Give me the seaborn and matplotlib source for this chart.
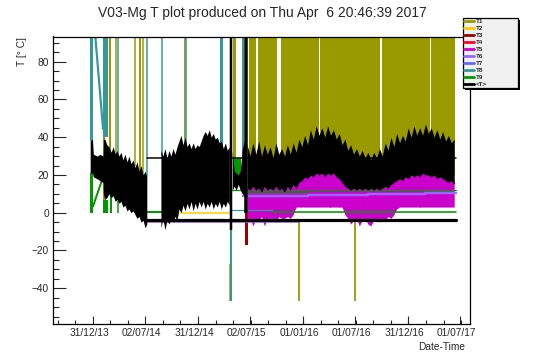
import matplotlib
matplotlib.use("Agg")
import numpy as np
import pandas as pd
import matplotlib.pyplot as plt
import matplotlib.dates as mdates
from matplotlib.ticker import MultipleLocator, AutoMinorLocator, FixedLocator
from matplotlib.patches import Rectangle
from matplotlib.lines import Line2D
from matplotlib.transforms import ScaledTranslation
import seaborn as sns

# ---------------- data ----------------
TITLE = "V03-Mg T plot produced on Thu Apr  6 20:46:39 2017"
SERIES = ["T1", "T2", "T3", "T4", "T5", "T6", "T7", "T8", "T9", "<T>"]
COLORS = ["#999900", "#ffcc00", "#990000", "#ff0033", "#cc00cc",
          "#9966ff", "#6666ff", "#339999", "#009900", "#000000"]
X_TICKS = ["2013-12-31", "2014-07-02", "2014-12-31", "2015-07-02",
           "2016-01-01", "2016-07-01", "2016-12-31", "2017-07-01"]

# <T> envelope, first period (min / max of the dense trace)
MEAN_A_DATES = ["2013-12-22", "2013-12-30", "2014-01-02", "2014-01-15", "2014-01-25",
                "2014-02-05", "2014-02-06", "2014-02-11", "2014-02-18", "2014-02-25",
                "2014-03-05", "2014-03-12", "2014-03-19", "2014-03-25", "2014-04-01",
                "2014-04-08", "2014-04-15", "2014-04-22", "2014-04-29", "2014-05-06",
                "2014-05-13", "2014-05-20", "2014-05-27", "2014-06-03", "2014-06-10",
                "2014-06-17", "2014-06-24", "2014-07-01", "2014-07-07"]
MEAN_A_HI = [38, 39, 31, 30, 31, 30, 39, 39, 36, 35, 32, 35, 31, 33, 30, 32, 28, 31, 27, 30,
             26, 28, 24, 27, 22, 25, 20, 22, 19]
MEAN_A_LO = [21, 21, 19, 18, 17, 16, 10, 7, 8, 10, 8, 9, 6, 7, 5, 6, 3, 4, 1, 2, 0, 1, -1, -3,
             -2, -5, -4, -8, -6]

# <T> envelope, weekly from 2014-08-25
MEAN_B_START = "2014-08-25"
MEAN_B_HI = [33, 30, 34, 29, 33, 30, 34, 31, 35, 38, 41, 36, 40, 35, 37, 34, 37, 34, 36, 35,
             38, 41, 43, 41, 44, 40, 42, 39, 40, 37, 38, 34, 37, 33, 35]
MEAN_B_LO = [-8, -3, -9, -4, -6, -3, -5, -2, -4, 2, 0, 4, 1, 5, 2, 6, 1, 5, 2, 6,
             3, 6, 2, 5, 3, 6, 2, 5, 3, 6, 2, 5, 3, 6, 4]

# <T> envelope, weekly from 2015-04-30
MEAN_C_START = "2015-04-30"
MEAN_C_HI = [33, 22, 21, 20, 22, 34, 38, 35]
MEAN_C_LO = [12, 14, 12, 15, 12, 10, 9, 12]

# <T> and T5 envelopes, every 10 days from 2015-06-21
MEAN_D_START = "2015-06-21"
MEAN_D_HI = [36, 30, 37, 31, 38, 30, 36, 31, 35, 29, 37, 31, 34, 30, 36, 31, 37, 32, 39, 35,
             41, 36, 44, 39, 46, 41, 45, 40, 46, 41, 44, 39, 42, 36, 39, 33, 36, 31, 34, 30,
             33, 29, 32, 28, 32, 29, 34, 30, 37, 33, 40, 35, 42, 37, 41, 38, 45, 40, 46, 41,
             45, 41, 47, 42, 45, 40, 44, 39, 43, 38, 41, 37, 39]
MEAN_D_LO = [13, 12, 14, 12, 13, 11, 14, 12, 13, 12, 14, 12, 13, 11, 14, 12, 15, 13, 16,
             17, 19, 18, 20, 19, 21, 20, 21, 19, 21, 20, 21, 19, 18, 16,
             14, 13, 12, 13, 12, 13, 12, 13, 12, 13, 12, 13, 12, 13, 14, 13, 15,
             16, 17, 18, 17, 19, 18, 20, 19, 20, 19, 21, 20, 20, 19, 20, 18, 19, 18, 17, 16, 17, 15]
T5_D_HI = [14, 13, 15, 13, 14, 12, 15, 13, 14, 13, 15, 13, 14, 12, 15, 13, 16, 14, 17,
           19, 21, 20, 22, 21, 23, 22, 22, 21, 22, 21, 22, 20, 19, 17,
           15, 14, 13, 14, 13, 14, 13, 14, 13, 14, 13, 14, 13, 14, 15, 14, 16,
           18, 19, 20, 19, 21, 20, 22, 21, 22, 21, 23, 22, 22, 21, 22, 20, 21, 20, 19, 18, 19, 17]
T5_D_LO = [-3, -3, -7, -3, -4, -2, -7, -3, -3, -3, -5, -2, -3, -3, -2, -3, -1,
           3, 3, 3, 3, 3, 3, 3, 3, 3, 3, 3, 3, 3, 3, 3, 3, 3,
           -1, -3, -6, -4, -3, -7, -4, -3, -6, -7, -4, -3, -5, -3, -4, -2, -3, -1, 2, 3, 3,
           3, 3, 3, 3, 3, 3, 3, 3, 3, 3, 3, 3, 3, 3, 3, 3, 3, 3]

# filled time spans: (series, start, end, low, high)
SPANS = [
    ("T1", "2014-02-04", "2014-02-12", 0, 44),
    ("T1", "2015-06-26", "2015-07-22", 20, 100),
    ("T1", "2015-07-29", "2015-10-03", 20, 100),
    ("T1", "2015-10-17", "2016-02-27", 20, 100),
    ("T1", "2016-03-01", "2016-09-26", 20, 100),
    ("T1", "2016-10-03", "2017-03-19", 20, 100),
    ("T1", "2017-03-22", "2017-06-14", 20, 100),
    ("T8", "2013-12-22", "2013-12-31", 38, 100),
    ("T8", "2014-02-05", "2014-02-22", 40, 100),
    ("T8", "2015-03-19", "2015-03-30", 33, 100),
    ("T9", "2013-12-22", "2013-12-31", 0, 21),
    ("T9", "2014-02-06", "2014-02-22", 0, 7),
    ("T9", "2015-05-03", "2015-06-01", 20, 29),
    ("T3", "2015-06-13", "2015-06-24", -17, 0),
]

# vertical spikes: (series, date, low, high, width in px)
SPIKES = [
    ("T1", "2014-03-01", 30, 100, 2.0), ("T1", "2014-03-22", 30, 100, 1.5),
    ("T1", "2014-05-27", 25, 100, 1.5), ("T1", "2014-06-13", 20, 100, 2.0),
    ("T1", "2014-06-25", 18, 100, 1.5), ("T1", "2014-11-17", 35, 100, 1.8),
    ("T1", "2015-05-05", 25, 100, 3.0), ("T1", "2015-04-24", -47, -27, 1.5),
    ("T1", "2015-12-19", -47, -4, 1.8), ("T1", "2016-07-01", -47, -4, 1.8),
    ("T8", "2014-03-29", 30, 100, 1.5), ("T8", "2014-07-07", 19, 100, 1.5),
    ("T8", "2014-08-29", 30, 100, 1.5), ("T8", "2014-11-22", 35, 100, 1.5),
    ("T8", "2015-06-07", 30, 100, 2.0), ("T8", "2015-04-27", -47, -9, 2.0),
    ("T9", "2014-03-03", 0, 10, 2.0), ("T9", "2014-03-29", 0, 6, 1.5),
    ("T7", "2015-03-22", 8, 28, 1.0),
    ("T3", "2015-04-25", -27, -5, 1.5),
    ("T4", "2016-04-05", 3, 8, 1.0), ("T4", "2016-05-09", 3, 8, 1.0),
    ("T4", "2017-02-12", 3, 8, 1.0),
    ("<T>", "2015-04-26", -9, 100, 2.5), ("<T>", "2015-06-16", 0, 100, 3.5),
]

# sloped segments: (series, start, value0, end, value1, width px)
SLOPES = [
    ("T8", "2014-01-08", 95, "2014-02-05", 44, 2.2),
    ("T9", "2013-12-31", 3, "2014-02-05", 19, 2.0),
]

# flat segments: (series, start, end, value, width px)
FLATS = [
    ("T9", "2014-07-07", "2014-08-29", 0.5, 2.0),
    ("T9", "2015-01-26", "2017-06-17", 12.0, 1.3),
    ("T9", "2015-06-21", "2016-01-19", 10.5, 1.0),
    ("T9", "2015-09-16", "2017-06-17", 0.5, 1.6),
    ("T6", "2014-07-07", "2015-12-19", -4.7, 1.5),
    ("T6", "2015-01-26", "2015-04-23", 8.4, 2.0),
    ("T6", "2015-06-07", "2016-01-19", 8.6, 2.5),
    ("T6", "2016-01-19", "2016-08-15", 9.2, 2.5),
    ("T6", "2016-08-15", "2017-03-01", 9.9, 2.5),
    ("T6", "2017-03-01", "2017-06-17", 10.6, 2.5),
    ("T8", "2015-04-30", "2015-09-16", 1.5, 1.2),
    ("T2", "2014-10-31", "2015-04-26", -0.3, 1.5),
    ("<T>", "2014-07-07", "2017-06-17", 29.2, 1.5),
    ("<T>", "2014-07-07", "2017-06-17", -3.8, 3.2),
]

# ---------------- style ----------------
sns.set_style("white")
plt.rcParams["font.family"] = ["Liberation Sans", "DejaVu Sans"]

W, H = 546, 362
PX = 72.0 / 100.0
fig = plt.figure(figsize=(W / 100, H / 100), dpi=100)
ax = fig.add_axes([52.5 / W, (H - 324.3) / H, (470 - 52.5) / W, (324.3 - 36.5) / H])
ax.set_facecolor("white")

col = dict(zip(SERIES, COLORS))
zo = {s: i + 1 for i, s in enumerate(SERIES)}

# spans
for s, d0, d1, lo, hi in SPANS:
    ax.fill_between(pd.to_datetime([d0, d1]), lo, hi, color=col[s], lw=0, zorder=zo[s])

# T5 band
d_dates = pd.date_range(MEAN_D_START, periods=len(MEAN_D_HI), freq="10D")
ax.fill_between(d_dates, T5_D_LO, T5_D_HI, color=col["T5"], lw=0, zorder=zo["T5"])

# <T> bands
ax.fill_between(pd.to_datetime(MEAN_A_DATES), MEAN_A_LO, MEAN_A_HI, color="black", lw=0, zorder=zo["<T>"])
ax.fill_between(pd.date_range(MEAN_B_START, periods=len(MEAN_B_HI), freq="7D"),
                MEAN_B_LO, MEAN_B_HI, color="black", lw=0, zorder=zo["<T>"])
ax.fill_between(pd.date_range(MEAN_C_START, periods=len(MEAN_C_HI), freq="7D"),
                MEAN_C_LO, MEAN_C_HI, color="black", lw=0, zorder=zo["<T>"])
ax.fill_between(d_dates, MEAN_D_LO, MEAN_D_HI, color="black", lw=0, zorder=zo["<T>"])

# spikes
for s, d, lo, hi, w in SPIKES:
    ax.vlines(pd.Timestamp(d), lo, hi, color=col[s], lw=w * PX, zorder=zo[s])

# slopes
for s, d0, v0, d1, v1, w in SLOPES:
    ax.plot(pd.to_datetime([d0, d1]), [v0, v1], color=col[s], lw=w * PX, zorder=zo[s],
            solid_capstyle="butt")

# flat segments through seaborn
rows = []
for i, (s, d0, d1, v, w) in enumerate(FLATS):
    for d in (d0, d1):
        rows.append({"seg": f"s{i}", "series": s, "date": pd.Timestamp(d), "T": v, "w": w})
flat_df = pd.DataFrame(rows)
for black in (False, True):
    sub = flat_df[(flat_df["series"] == "<T>") == black]
    segs = sub["seg"].unique().tolist()
    pal = {g: col[sub.loc[sub.seg == g, "series"].iloc[0]] for g in segs}
    sz = {g: sub.loc[sub.seg == g, "w"].iloc[0] * PX for g in segs}
    sns.lineplot(data=sub, x="date", y="T", hue="seg", size="seg", palette=pal, sizes=sz,
                 estimator=None, legend=False, ax=ax, zorder=10.5 if black else 9.5)

ax.set_xlabel("")
ax.set_ylabel("")

# axes
ax.set_xlim(pd.Timestamp("2013-08-13"), pd.Timestamp("2017-08-04"))
ax.set_ylim(-59.1, 93.35)
ax.xaxis.set_major_locator(FixedLocator(mdates.date2num(pd.to_datetime(X_TICKS))))
ax.xaxis.set_major_formatter(mdates.DateFormatter("%d/%m/%y"))
ax.xaxis.set_minor_locator(AutoMinorLocator(3))
ax.yaxis.set_major_locator(MultipleLocator(20))
ax.yaxis.set_minor_locator(MultipleLocator(5))
ax.tick_params(axis="y", which="major", direction="in", length=9.4, width=0.8,
               labelsize=7.3, pad=2.5, left=True)
ax.tick_params(axis="y", which="minor", direction="in", length=4.3, width=0.8, left=True)
ax.tick_params(axis="x", which="major", direction="in", length=5.5, width=0.8,
               labelsize=7.3, pad=3, bottom=True)
ax.tick_params(axis="x", which="minor", direction="in", length=2.7, width=0.8, bottom=True)
for sp in ax.spines.values():
    sp.set_visible(True)
    sp.set_color("black")
    sp.set_linewidth(0.9)
    sp.set_zorder(20)
off = ScaledTranslation(-3.5 / 100, 0, fig.dpi_scale_trans)
for lbl in ax.get_xticklabels():
    lbl.set_transform(lbl.get_transform() + off)

# texts
fig.text(262 / W, 1 - 12.5 / H, TITLE, ha="center", va="center", fontsize=10)
fig.text(22 / W, 1 - 37 / H, "T [° C]", rotation=90, ha="center", va="top", fontsize=7.3)
fig.text(465 / W, 1 - 347 / H, "Date-Time", ha="right", va="center", fontsize=7.3)

# legend
handles = [Line2D([0], [0], color=c, lw=2.0) for c in COLORS]
leg = fig.legend(handles, SERIES, loc="upper left",
                 bbox_to_anchor=(463 / W, 1 - 90 / H, 55 / W, 72 / H),
                 bbox_transform=fig.transFigure, mode="expand",
                 prop={"size": 4.5, "weight": "bold"}, frameon=True, fancybox=False,
                 edgecolor="black", facecolor="#f0f0f0", framealpha=1,
                 borderpad=0.1, labelspacing=0.26, handlelength=1.6,
                 handletextpad=0.3, borderaxespad=0)
leg.get_frame().set_linewidth(0.9)
leg.set_zorder(6)
fig.canvas.draw()
bb = leg.get_window_extent()
fig.add_artist(Rectangle((bb.x0 + 2, bb.y0 - 2), bb.width, bb.height, transform=None,
                         facecolor="black", edgecolor="none", zorder=5))

fig.savefig("out.png", dpi=100)
